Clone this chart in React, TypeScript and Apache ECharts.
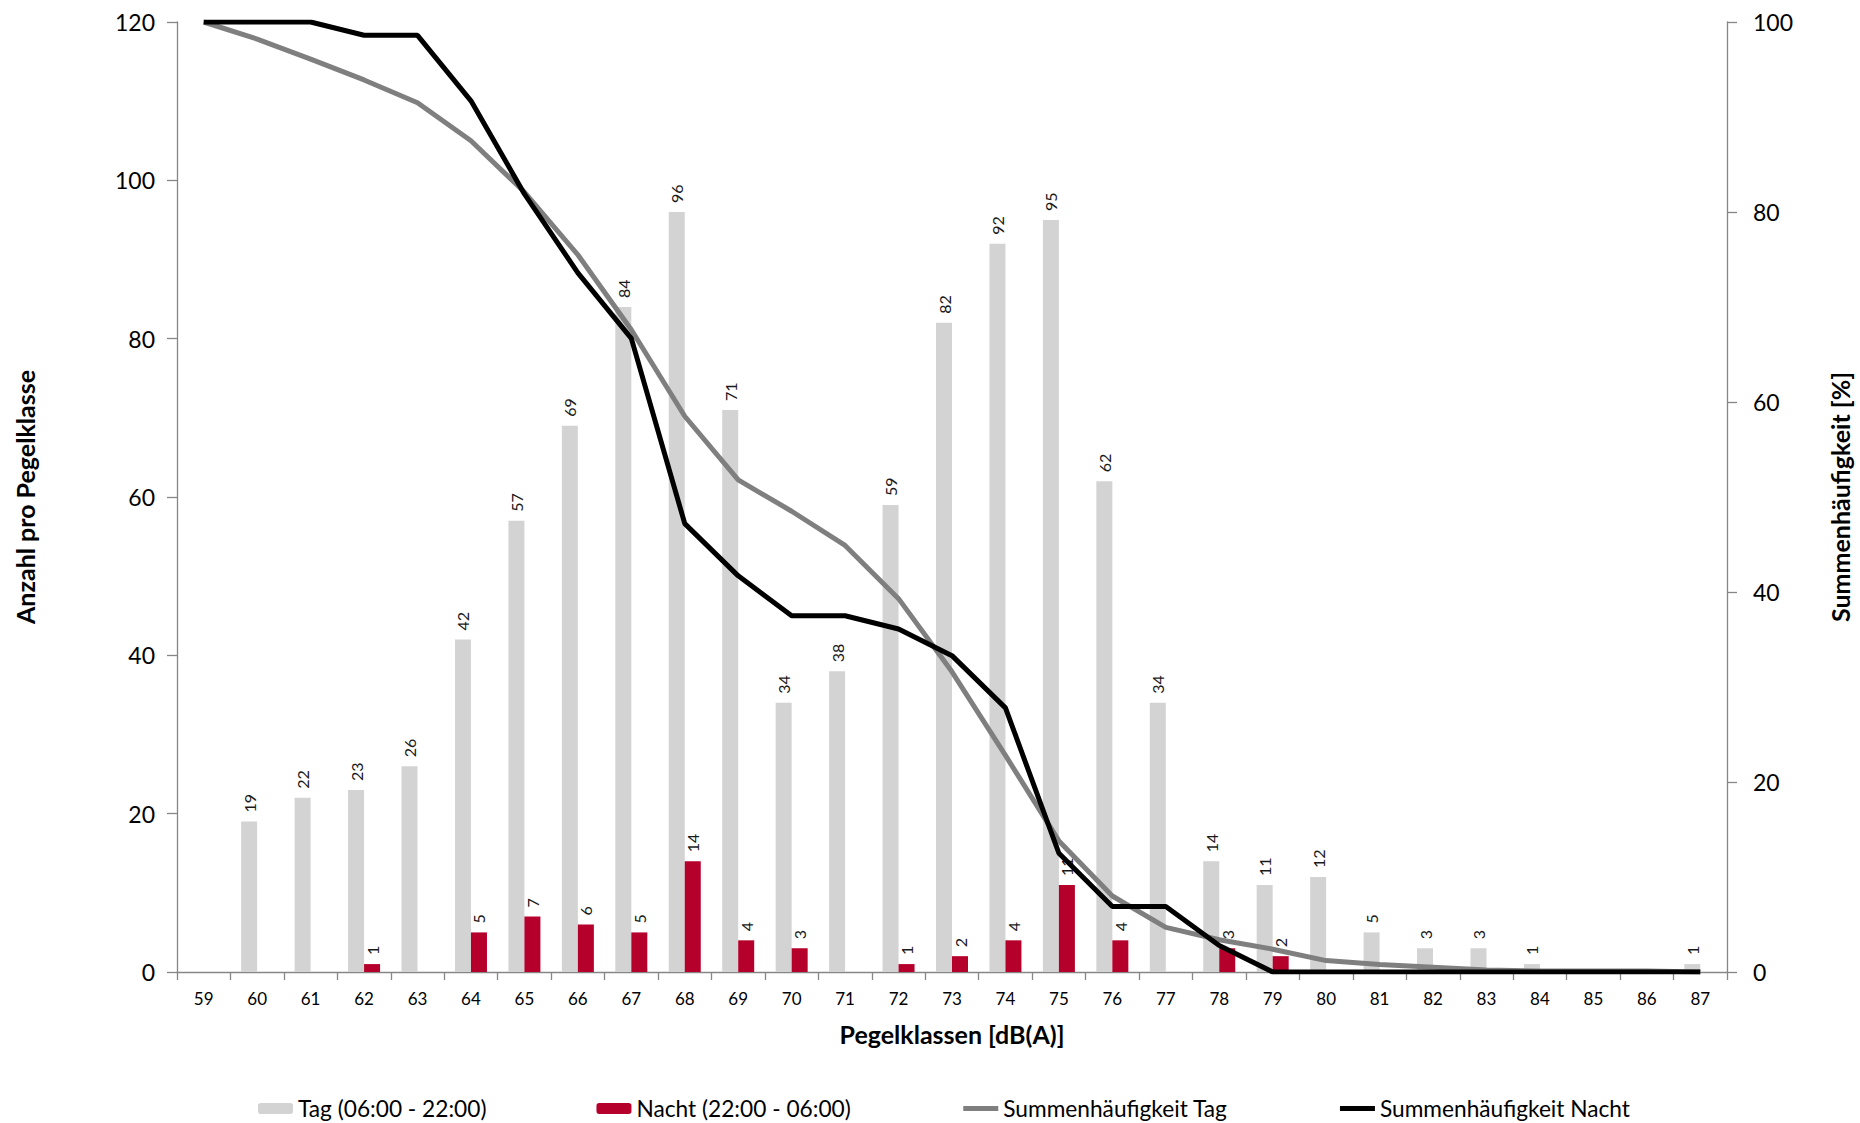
import React, { useEffect, useRef } from "react";
import * as echarts from "echarts";

const categories = [
  "59", "60", "61", "62", "63", "64", "65", "66", "67", "68",
  "69", "70", "71", "72", "73", "74", "75", "76", "77", "78",
  "79", "80", "81", "82", "83", "84", "85", "86", "87",
];

const tagCounts = [
  0, 19, 22, 23, 26, 42, 57, 69, 84, 96,
  71, 34, 38, 59, 82, 92, 95, 62, 34, 14,
  11, 12, 5, 3, 3, 1, 0, 0, 1,
];

const nachtCounts = [
  0, 0, 0, 1, 0, 5, 7, 6, 5, 14,
  4, 3, 0, 1, 2, 4, 11, 4, 0, 3,
  2, 0, 0, 0, 0, 0, 0, 0, 0,
];

const cumTag = [
  100, 98.2, 96.1, 93.9, 91.5, 87.5, 82.1, 75.5, 67.6, 58.5,
  51.8, 48.5, 44.9, 39.3, 31.6, 22.8, 13.8, 8.0, 4.7, 3.4,
  2.4, 1.2, 0.8, 0.5, 0.2, 0.1, 0.1, 0.1, 0,
];

const cumNacht = [
  100, 100, 100, 98.6, 98.6, 91.7, 81.9, 73.6, 66.7, 47.2,
  41.7, 37.5, 37.5, 36.1, 33.3, 27.8, 12.5, 6.9, 6.9, 2.8,
  0, 0, 0, 0, 0, 0, 0, 0, 0,
];

const seriesNames = [
  "Tag (06:00 - 22:00)",
  "Nacht (22:00 - 06:00)",
  "Summenhäufigkeit Tag",
  "Summenhäufigkeit Nacht",
];

const FONT = "Lato, 'Open Sans', sans-serif";
const AXIS_COLOR = "#868686";
const TAG_COLOR = "#d3d3d3";
const NACHT_COLOR = "#b5002c";
const SUM_TAG_COLOR = "#7f7f7f";
const SUM_NACHT_COLOR = "#000000";

export default function App() {
  const ref = useRef<HTMLDivElement>(null);

  useEffect(() => {
    document.body.style.margin = "0";
    if (!ref.current) return;
    const chart = echarts.init(ref.current, null, { renderer: "svg" });

    const barLabel = {
      show: true,
      position: "top" as const,
      rotate: 90,
      align: "left" as const,
      verticalAlign: "middle" as const,
      distance: 9,
      fontSize: 16,
      color: "#1a1a1a",
      fontFamily: FONT,
      formatter: (p: any) => (p.value > 0 ? String(p.value) : ""),
    };

    const hiddenSymbol = { color: "rgba(0,0,0,0)", borderColor: "rgba(0,0,0,0)", borderWidth: 0 };
    const titleStyle = { fontSize: 25, fontWeight: "bold", color: "#000", fontFamily: FONT };

    const option: any = {
      animation: false,
      backgroundColor: "#ffffff",
      textStyle: { fontFamily: FONT },
      grid: { left: 177, right: 119, top: 22, bottom: 151, containLabel: false },
      legend: {
        left: 258,
        top: 1097,
        padding: 0,
        itemWidth: 35,
        itemHeight: 11,
        itemGap: 110,
        textStyle: { fontSize: 22.7, color: "#000", fontFamily: FONT },
        data: [
          { name: seriesNames[0] },
          { name: seriesNames[1] },
          { name: seriesNames[2], itemStyle: hiddenSymbol, lineStyle: { width: 5, color: SUM_TAG_COLOR } },
          { name: seriesNames[3], itemStyle: hiddenSymbol, lineStyle: { width: 5, color: SUM_NACHT_COLOR } },
        ],
      },
      xAxis: {
        type: "category",
        data: categories,
        boundaryGap: true,
        axisLine: { show: true, lineStyle: { color: AXIS_COLOR, width: 1.3 } },
        axisTick: { show: true, alignWithLabel: false, length: 8, lineStyle: { color: AXIS_COLOR, width: 1.3 } },
        axisLabel: { interval: 0, fontSize: 17, color: "#000", margin: 18, fontFamily: FONT },
        splitLine: { show: false },
        name: "Pegelklassen [dB(A)]",
        nameLocation: "middle",
        nameGap: 49,
        nameTextStyle: titleStyle,
      },
      yAxis: [
        {
          type: "value",
          min: 0,
          max: 120,
          interval: 20,
          position: "left",
          axisLine: { show: true, lineStyle: { color: AXIS_COLOR, width: 1.3 } },
          axisTick: { show: true, length: 10, lineStyle: { color: AXIS_COLOR, width: 1.3 } },
          axisLabel: { fontSize: 23, color: "#000", margin: 22, fontFamily: FONT },
          splitLine: { show: false },
          name: "Anzahl pro Pegelklasse",
          nameLocation: "middle",
          nameRotate: 90,
          nameGap: 140,
          nameTextStyle: titleStyle,
        },
        {
          type: "value",
          min: 0,
          max: 100,
          interval: 20,
          position: "right",
          axisLine: { show: true, lineStyle: { color: AXIS_COLOR, width: 1.3 } },
          axisTick: { show: true, length: 10, lineStyle: { color: AXIS_COLOR, width: 1.3 } },
          axisLabel: { fontSize: 23, color: "#000", margin: 26, fontFamily: FONT },
          splitLine: { show: false },
          name: "Summenhäufigkeit [%]",
          nameLocation: "middle",
          nameRotate: 90,
          nameGap: 100,
          nameTextStyle: titleStyle,
        },
      ],
      series: [
        {
          name: seriesNames[0],
          type: "bar",
          yAxisIndex: 0,
          data: tagCounts,
          barWidth: 16,
          barGap: "0%",
          itemStyle: { color: TAG_COLOR },
          label: barLabel,
          z: 2,
        },
        {
          name: seriesNames[1],
          type: "bar",
          yAxisIndex: 0,
          data: nachtCounts,
          barWidth: 16,
          barGap: "0%",
          itemStyle: { color: NACHT_COLOR },
          label: barLabel,
          z: 2,
        },
        {
          name: seriesNames[2],
          type: "line",
          yAxisIndex: 1,
          data: cumTag,
          symbol: "none",
          showSymbol: false,
          lineStyle: { color: SUM_TAG_COLOR, width: 5 },
          itemStyle: { color: SUM_TAG_COLOR },
          z: 3,
        },
        {
          name: seriesNames[3],
          type: "line",
          yAxisIndex: 1,
          data: cumNacht,
          symbol: "none",
          showSymbol: false,
          lineStyle: { color: SUM_NACHT_COLOR, width: 5 },
          itemStyle: { color: SUM_NACHT_COLOR },
          z: 4,
        },
      ],
    };

    chart.setOption(option);
    return () => {
      chart.dispose();
    };
  }, []);

  return <div ref={ref} style={{ width: 1860, height: 1123 }} />;
}
